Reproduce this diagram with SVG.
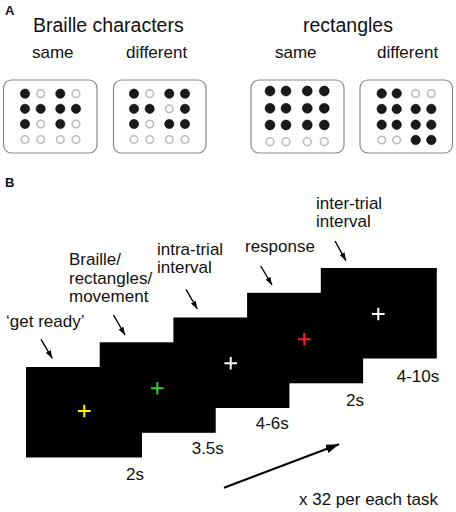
<svg xmlns="http://www.w3.org/2000/svg" width="456" height="512" viewBox="0 0 456 512">
<style>
text{font-family:"Liberation Sans",Arial,sans-serif;fill:#111}
.t{font-size:19.5px}
.s{font-size:17px}
.lab{font-size:13px;font-weight:bold}
.box{fill:#fff;stroke:#8a8a8a;stroke-width:1.2}
.b{fill:#1a1a1a;stroke:#000;stroke-width:0.6}
.o{fill:#fff;stroke:#bdbdbd;stroke-width:1.6}
.scr{fill:#000}
.cr{stroke-width:2;fill:none}
.ptr{stroke:#000;stroke-width:1.4;fill:none}
</style>
<defs>
<marker id="ah" markerUnits="userSpaceOnUse" markerWidth="9" markerHeight="6" refX="8" refY="2.75" orient="auto">
<path d="M0,0 L8,2.75 L0,5.5 z" fill="#000"/>
</marker>
<marker id="ahb" markerUnits="userSpaceOnUse" markerWidth="14" markerHeight="10" refX="13" refY="4.5" orient="auto">
<path d="M0,0 L13,4.5 L0,9 z" fill="#000"/>
</marker>
</defs>

<g id="panelA">
<text class="lab" x="5" y="15">A</text>
<text class="t" x="33" y="32">Braille characters</text>
<text class="t" x="303" y="32">rectangles</text>
<text class="s" x="32" y="58">same</text>
<text class="s" x="126" y="58">different</text>
<text class="s" x="275" y="58">same</text>
<text class="s" x="377" y="58">different</text>
</g>

<g id="braille-same">
<rect class="box" x="3.5" y="80" width="93.5" height="73" rx="8"/>
<circle class="b" cx="25" cy="93.7" r="4.6"/><circle class="o" cx="40.7" cy="93.7" r="3.8"/><circle class="b" cx="60.3" cy="93.7" r="4.6"/><circle class="o" cx="76" cy="93.7" r="3.8"/>
<circle class="b" cx="25" cy="108.8" r="4.6"/><circle class="b" cx="40.7" cy="108.8" r="4.6"/><circle class="b" cx="60.3" cy="108.8" r="4.6"/><circle class="b" cx="76" cy="108.8" r="4.6"/>
<circle class="b" cx="25" cy="124" r="4.6"/><circle class="o" cx="40.7" cy="124" r="3.8"/><circle class="b" cx="60.3" cy="124" r="4.6"/><circle class="o" cx="76" cy="124" r="3.8"/>
<circle class="o" cx="25" cy="139.5" r="3.8"/><circle class="o" cx="40.7" cy="139.5" r="3.8"/><circle class="o" cx="60.3" cy="139.5" r="3.8"/><circle class="o" cx="76" cy="139.5" r="3.8"/>
</g>

<g id="braille-different">
<rect class="box" x="113.5" y="80" width="92.5" height="73" rx="8"/>
<circle class="b" cx="134" cy="93.7" r="4.6"/><circle class="o" cx="149.7" cy="93.7" r="3.8"/><circle class="b" cx="169.3" cy="93.7" r="4.6"/><circle class="b" cx="185" cy="93.7" r="4.6"/>
<circle class="b" cx="134" cy="108.8" r="4.6"/><circle class="b" cx="149.7" cy="108.8" r="4.6"/><circle class="o" cx="169.3" cy="108.8" r="3.8"/><circle class="b" cx="185" cy="108.8" r="4.6"/>
<circle class="b" cx="134" cy="124" r="4.6"/><circle class="o" cx="149.7" cy="124" r="3.8"/><circle class="b" cx="169.3" cy="124" r="4.6"/><circle class="b" cx="185" cy="124" r="4.6"/>
<circle class="o" cx="134" cy="139.5" r="3.8"/><circle class="o" cx="149.7" cy="139.5" r="3.8"/><circle class="o" cx="169.3" cy="139.5" r="3.8"/><circle class="o" cx="185" cy="139.5" r="3.8"/>
</g>

<g id="rect-same">
<rect class="box" x="251" y="80" width="93" height="73" rx="8"/>
<circle class="b" cx="270" cy="91" r="4.9"/><circle class="b" cx="286" cy="91" r="4.9"/><circle class="b" cx="307.3" cy="91" r="4.9"/><circle class="b" cx="324.3" cy="91" r="4.9"/>
<circle class="b" cx="270" cy="108.3" r="4.9"/><circle class="b" cx="286" cy="108.3" r="4.9"/><circle class="b" cx="307.3" cy="108.3" r="4.9"/><circle class="b" cx="324.3" cy="108.3" r="4.9"/>
<circle class="b" cx="270" cy="125" r="4.9"/><circle class="b" cx="286" cy="125" r="4.9"/><circle class="b" cx="307.3" cy="125" r="4.9"/><circle class="b" cx="324.3" cy="125" r="4.9"/>
<circle class="o" cx="270" cy="141.7" r="3.9"/><circle class="o" cx="286" cy="141.7" r="3.9"/><circle class="o" cx="307.3" cy="141.7" r="3.9"/><circle class="o" cx="324.3" cy="141.7" r="3.9"/>
</g>

<g id="rect-different">
<rect class="box" x="360" y="80" width="92.5" height="73" rx="8"/>
<circle class="b" cx="381.7" cy="93.5" r="4.7"/><circle class="b" cx="396.7" cy="93.5" r="4.7"/><circle class="o" cx="415.7" cy="93.5" r="3.8"/><circle class="o" cx="431.3" cy="93.5" r="3.8"/>
<circle class="b" cx="381.7" cy="109" r="4.7"/><circle class="b" cx="396.7" cy="109" r="4.7"/><circle class="b" cx="415.7" cy="109" r="4.7"/><circle class="b" cx="431.3" cy="109" r="4.7"/>
<circle class="b" cx="381.7" cy="124.7" r="4.7"/><circle class="b" cx="396.7" cy="124.7" r="4.7"/><circle class="b" cx="415.7" cy="124.7" r="4.7"/><circle class="b" cx="431.3" cy="124.7" r="4.7"/>
<circle class="o" cx="381.7" cy="140" r="3.8"/><circle class="o" cx="396.7" cy="140" r="3.8"/><circle class="b" cx="415.7" cy="140" r="4.7"/><circle class="b" cx="431.3" cy="140" r="4.7"/>
</g>

<g id="panelB-label">
<text class="lab" x="5" y="187">B</text>
</g>

<g id="screen-getready">
<rect class="scr" x="26" y="367" width="116" height="90.5"/>
</g>
<g id="screen-stimulus">
<rect class="scr" x="99.7" y="342.3" width="116" height="90.5"/>
</g>
<g id="screen-intra">
<rect class="scr" x="173.4" y="317.5" width="116" height="90.5"/>
</g>
<g id="screen-response">
<rect class="scr" x="247.1" y="292.8" width="116" height="90.5"/>
</g>
<g id="screen-inter">
<rect class="scr" x="320.8" y="268" width="116" height="90.5"/>
</g>

<g id="crosses">
<path class="cr" stroke="#ffff00" d="M78,411 h12.6 M84.3,404.7 v12.6"/>
<path class="cr" stroke="#33cc33" d="M151,388.3 h12.6 M157.3,382 v12.6"/>
<path class="cr" stroke="#ffffff" d="M224.4,363.3 h12.6 M230.7,357 v12.6"/>
<path class="cr" stroke="#ff2020" d="M298,339.3 h12.6 M304.3,333 v12.6"/>
<path class="cr" stroke="#ffffff" d="M372,314 h12.6 M378.3,307.7 v12.6"/>
</g>

<g id="annotations">
<text class="s" x="6" y="327">‘get ready’</text>
<text class="s" x="69" y="265">Braille/</text>
<text class="s" x="69" y="283.5">rectangles/</text>
<text class="s" x="69" y="302">movement</text>
<text class="s" x="157" y="255">intra-trial</text>
<text class="s" x="157" y="272.7">interval</text>
<text class="s" x="245" y="251.7">response</text>
<text class="s" x="316" y="208.8">inter-trial</text>
<text class="s" x="316" y="226.5">interval</text>
<text class="s" x="126" y="480">2s</text>
<text class="s" x="191.7" y="454.3">3.5s</text>
<text class="s" x="255.7" y="429.3">4-6s</text>
<text class="s" x="346" y="406">2s</text>
<text class="s" x="396.7" y="381.7">4-10s</text>
<text class="s" x="299" y="505">x 32 per each task</text>
</g>

<g id="connectors">
<line class="ptr" x1="41" y1="339.3" x2="52.3" y2="358.3" marker-end="url(#ah)"/>
<line class="ptr" x1="113.5" y1="315" x2="125" y2="335" marker-end="url(#ah)"/>
<line class="ptr" x1="186" y1="289.3" x2="197.3" y2="309" marker-end="url(#ah)"/>
<line class="ptr" x1="260.7" y1="266" x2="272" y2="285" marker-end="url(#ah)"/>
<line class="ptr" x1="335" y1="241" x2="346" y2="260.7" marker-end="url(#ah)"/>
<line x1="224" y1="487.7" x2="339" y2="444.3" stroke="#000" stroke-width="2" marker-end="url(#ahb)"/>
</g>
</svg>
